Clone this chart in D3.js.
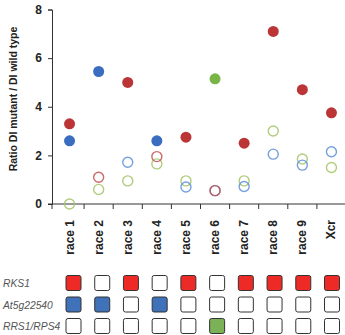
<!DOCTYPE html>
<html>
<head>
<meta charset="utf-8">
<script src="https://cdn.jsdelivr.net/npm/d3@7"></script>
<style>
  body { margin: 0; background: #fff; }
  svg { display: block; font-family: "Liberation Sans", Arial, sans-serif; }
</style>
</head>
<body>
<div id="chart"></div>
<script>
/*
Categories on the x axis */
var races = ['race 1', 'race 2', 'race 3', 'race 4', 'race 5',
             'race 6', 'race 7', 'race 8', 'race 9', 'Xcr'];

/*
Filled markers (one per race) and which colour they carry */
var filled_vals = [3.3, 5.45, 5.0, 2.6, 2.75, 5.15, 2.5, 7.1, 4.7, 3.75];
var filled_kind = ['red', 'blue', 'red', 'blue', 'red', 'green', 'red', 'red', 'red', 'red'];
/* second filled marker for race 1 */
var extra_filled = [{race: 'race 1', v: 2.6, kind: 'blue'}];

/*
Open markers per series (null = not drawn) */
var open_red   = [null, 1.1, null, 1.95, null, 0.55, null, null, null, null];
var open_blue  = [null, null, 1.72, null, 0.7, 0.55, 0.72, 2.05, 1.6, 2.15];
var open_green = [0, 0.6, 0.95, 1.65, 0.95, null, 0.95, 3.0, 1.85, 1.5];

var y_ticks = [0, 2, 4, 6, 8];

/*
Gene presence grid underneath */
var genes = ['RKS1', 'At5g22540', 'RRS1/RPS4'];
var rks1      = [1, 0, 1, 0, 1, 0, 1, 1, 1, 1];
var at5g22540 = [1, 1, 0, 1, 0, 0, 0, 0, 0, 0];
var rrs1_rps4 = [0, 0, 0, 0, 0, 1, 0, 0, 0, 0];

var dot_fill = {red: '#bb3537', blue: '#3a6cc0', green: '#78b446'};
var ring_col = {red: '#c2504f', blue: '#5a8fd8', green: '#a3c367'};
var box_fill = ['#ee2a26', '#3f72b8', '#7bb257'];

var W = 345, H = 335;
var svg = d3.select('#chart').append('svg').attr('width', W).attr('height', H);

var x = d3.scaleBand().domain(races).range([55, 346]);
var y = d3.scaleLinear().domain([0, 8]).range([204, 9.5]);

// y axis
var yAxis = svg.append('g').attr('transform', 'translate(52,0)')
  .call(d3.axisLeft(y).tickValues(y_ticks).tickSize(4).tickPadding(6));
yAxis.select('.domain').attr('stroke', '#333');
yAxis.selectAll('.tick line').attr('stroke', '#333');
yAxis.selectAll('text').attr('font-size', 12).attr('font-weight', 'bold').attr('fill', '#222');

// x axis
var xAxis = svg.append('g').attr('transform', 'translate(0,' + y(0) + ')');
xAxis.append('line').attr('x1', 48).attr('x2', 346).attr('stroke', '#333');
xAxis.selectAll('line.tk').data(races.slice(1)).enter().append('line')
  .attr('class', 'tk')
  .attr('x1', function(d) { return x(d); })
  .attr('x2', function(d) { return x(d); })
  .attr('y1', 0).attr('y2', 5).attr('stroke', '#333');
xAxis.append('line').attr('x1', 52).attr('x2', 52).attr('y1', 0).attr('y2', 5).attr('stroke', '#333');
xAxis.selectAll('text').data(races).enter().append('text')
  .attr('transform', function(d) {
    return 'translate(' + (x(d) + x.bandwidth() / 2 + 4) + ',16) rotate(-90)';
  })
  .attr('text-anchor', 'end')
  .attr('font-size', 12).attr('font-weight', 'bold').attr('fill', '#222')
  .text(function(d) { return d; });

// y label
svg.append('text')
  .attr('transform', 'translate(17,99) rotate(-90)')
  .attr('text-anchor', 'middle')
  .attr('font-size', 10.5).attr('font-weight', 'bold').attr('fill', '#222')
  .text('Ratio DI mutant / DI  wild type');

function cx(r) { return x(r) + x.bandwidth() / 2; }

// open rings
function draw_rings(vals, kind) {
  var pts = [];
  vals.forEach(function(v, i) { if (v !== null) pts.push({race: races[i], v: v}); });
  svg.append('g').selectAll('circle').data(pts).enter().append('circle')
    .attr('cx', function(d) { return cx(d.race); })
    .attr('cy', function(d) { return y(d.v); })
    .attr('r', 5)
    .attr('fill', 'none')
    .attr('stroke', ring_col[kind])
    .attr('stroke-opacity', 0.85)
    .attr('stroke-width', 1.4);
}
draw_rings(open_green, 'green');
draw_rings(open_blue, 'blue');
draw_rings(open_red, 'red');

// filled dots
var dots = races.map(function(r, i) { return {race: r, v: filled_vals[i], kind: filled_kind[i]}; })
  .concat(extra_filled);
svg.append('g').selectAll('circle').data(dots).enter().append('circle')
  .attr('cx', function(d) { return cx(d.race); })
  .attr('cy', function(d) { return y(d.v); })
  .attr('r', 5.5)
  .attr('fill', function(d) { return dot_fill[d.kind]; });

// gene grid
var gx = d3.scalePoint().domain(races).range([73.5, 332]);
var gy = d3.scalePoint().domain(genes).range([283, 326]);
var grid = [rks1, at5g22540, rrs1_rps4];

svg.append('g').selectAll('text').data(genes).enter().append('text')
  .attr('x', 3)
  .attr('y', function(d) { return gy(d) + 4; })
  .attr('font-size', 10.3).attr('font-style', 'italic').attr('fill', '#555')
  .text(function(d) { return d; });

grid.forEach(function(row, gi) {
  svg.append('g').selectAll('rect').data(row).enter().append('rect')
    .attr('x', function(d, i) { return gx(races[i]) - 7.5; })
    .attr('y', gy(genes[gi]) - 7.5)
    .attr('width', 15).attr('height', 15)
    .attr('rx', 2)
    .attr('fill', function(d) { return d ? box_fill[gi] : '#fff'; })
    .attr('stroke', '#333').attr('stroke-width', 1);
});
</script>
</body>
</html>
